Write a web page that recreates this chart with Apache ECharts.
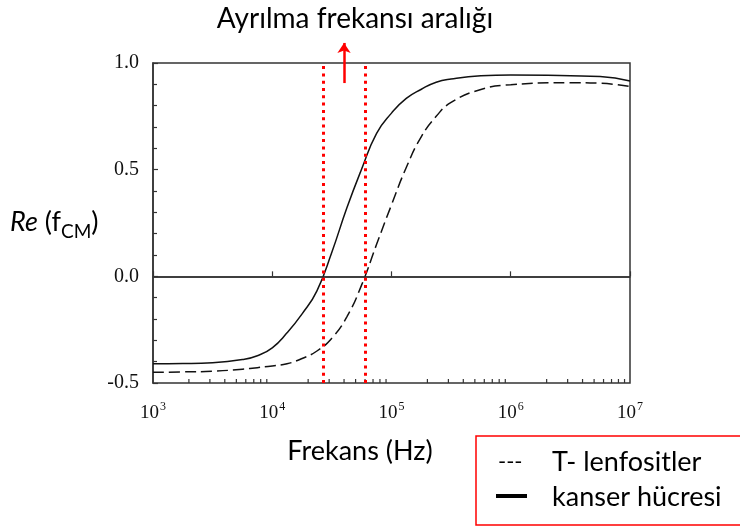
<!DOCTYPE html>
<html>
<head>
<meta charset="utf-8">
<script src="https://cdn.jsdelivr.net/npm/echarts@6/dist/echarts.min.js"></script>
<style>
html,body{margin:0;padding:0;background:#fff;}
#chart{width:740px;height:529px;}
</style>
</head>
<body>
<div id="chart"></div>
<script>
// Frequencies (Hz)
const freqs = [1000, 1780, 3160, 5620, 7500, 10000, 13300, 17800, 23700, 31600, 42200, 56200, 75000, 100000, 133000, 178000, 237000, 316000, 562000, 1000000, 3160000, 5620000, 10000000];
// Re(fCM) for cancer cells (solid)
const kanserValues = [-0.41, -0.409, -0.405, -0.39, -0.372, -0.335, -0.265, -0.176, -0.068, 0.113, 0.32, 0.503, 0.67, 0.765, 0.834, 0.877, 0.91, 0.925, 0.94, 0.944, 0.94, 0.937, 0.916];
// Re(fCM) for T-lymphocytes (dashed)
const tLenfositValues = [-0.45, -0.448, -0.445, -0.435, -0.428, -0.42, -0.41, -0.385, -0.35, -0.29, -0.19, -0.04, 0.15, 0.335, 0.51, 0.655, 0.75, 0.815, 0.876, 0.898, 0.908, 0.905, 0.89];
// Crossover frequency range markers (Hz)
const crossoverFreqs = [2.7e4, 6.0e4];
const arrowFreq = 4.0e4;
const arrowY = [0.906, 1.094];
// Axis ticks
const yTicks = [-0.5, 0.0, 0.5, 1.0];
const xMinorTicks = [2e3,3e3,4e3,5e3,6e3,7e3,8e3,9e3,2e4,3e4,4e4,5e4,6e4,7e4,8e4,9e4,2e5,3e5,4e5,5e5,6e5,7e5,8e5,9e5,2e6,3e6,4e6,5e6,6e6,7e6,8e6,9e6];

const sansFont = 'Lato';
const serifFont = 'Liberation Serif';
const axisColor = '#333';
const textSize = 27;

const chart = echarts.init(document.getElementById('chart'), null, {renderer: 'canvas'});

const option = {
  animation: false,
  grid: {left: 153, right: 110, top: 63, bottom: 146, show: true, borderColor: axisColor, borderWidth: 1.5, backgroundColor: 'transparent'},
  xAxis: {
    type: 'log', logBase: 10, min: 1e3, max: 1e7,
    axisLine: {show: true, lineStyle: {color: axisColor, width: 1.5}},
    axisTick: {show: true, inside: true, length: 5, lineStyle: {color: axisColor, width: 1.2}},
    splitLine: {show: false},
    axisLabel: {
      margin: 18,
      formatter: function (v) {
        const e = Math.round(Math.log10(v));
        return '{b|10}{s|' + e + '}';
      },
      rich: {
        b: {fontFamily: serifFont, fontSize: 19, color: '#111', verticalAlign: 'bottom', lineHeight: 22},
        s: {fontFamily: serifFont, fontSize: 12, color: '#111', verticalAlign: 'top', lineHeight: 22, padding: [0, 0, 0, 1]}
      }
    }
  },
  yAxis: {
    type: 'value', min: yTicks[0], max: yTicks[yTicks.length - 1], interval: 0.5,
    axisLine: {show: true, lineStyle: {color: axisColor, width: 1.5}},
    axisTick: {show: true, inside: true, length: 5, lineStyle: {color: axisColor, width: 1.2}},
    minorTick: {show: true, splitNumber: 5, length: 4, lineStyle: {color: axisColor, width: 1.2}},
    splitLine: {show: false},
    axisLabel: {
      margin: 14,
      fontFamily: serifFont, fontSize: 20, color: '#111',
      formatter: function (v) { return v.toFixed(1); }
    }
  },
  series: [
    {
      name: 'kanser hücresi', type: 'line', smooth: 0.5, symbol: 'none',
      data: freqs.map((f, i) => [f, kanserValues[i]]),
      lineStyle: {color: '#111', width: 1.5},
      z: 3,
      markLine: {
        silent: true, symbol: 'none', label: {show: false},
        data: [{yAxis: 0}],
        lineStyle: {color: axisColor, width: 1.5, type: 'solid'}
      }
    },
    {
      name: 'T- lenfositler', type: 'line', smooth: 0.5, symbol: 'none',
      data: freqs.map((f, i) => [f, tLenfositValues[i]]),
      lineStyle: {color: '#111', width: 1.5, type: [11, 5]},
      z: 3,
      markLine: {
        silent: true, symbol: 'none', label: {show: false},
        data: crossoverFreqs.map(f => ({xAxis: f})),
        lineStyle: {color: '#ff0000', width: 3, type: [3, 4.3]},
        z: 5
      }
    },
    {
      name: 'arrow', type: 'lines', coordinateSystem: 'cartesian2d', clip: false,
      symbol: ['none', 'arrow'], symbolSize: 10,
      lineStyle: {color: '#ff0000', width: 2.5, opacity: 1},
      data: [{coords: [[arrowFreq, arrowY[0]], [arrowFreq, arrowY[1]]]}],
      z: 6
    },
    {
      name: 'minorTicks', type: 'custom', coordinateSystem: 'cartesian2d', clip: false, silent: true,
      data: xMinorTicks.map(f => [f, yTicks[0]]),
      renderItem: function (params, api) {
        const p = api.coord([api.value(0), api.value(1)]);
        return {type: 'line', shape: {x1: p[0], y1: p[1], x2: p[0], y2: p[1] - 4}, style: {stroke: axisColor, lineWidth: 1.2}};
      },
      z: 2
    }
  ],
  graphic: [
    {type: 'text', x: 355, y: 19, style: {text: 'Ayrılma frekansı aralığı', fontFamily: sansFont, fontSize: 28, fill: '#000', align: 'center', verticalAlign: 'middle'}},
    {type: 'text', x: 360, y: 451, style: {text: 'Frekans (Hz)', fontFamily: sansFont, fontSize: textSize, fill: '#000', align: 'center', verticalAlign: 'middle'}},
    {type: 'text', x: 10, y: 220, style: {
      text: '{i|Re}{n| (f}{sub|CM}{n|)}', verticalAlign: 'middle',
      rich: {
        i: {fontFamily: sansFont, fontSize: textSize, fontStyle: 'italic', fill: '#000', verticalAlign: 'bottom', lineHeight: 32},
        n: {fontFamily: sansFont, fontSize: textSize, fill: '#000', verticalAlign: 'bottom', lineHeight: 32},
        sub: {fontFamily: sansFont, fontSize: 19, fill: '#000', verticalAlign: 'bottom', lineHeight: 32, padding: [0, 0, -5, 0]}
      }
    }},
    {type: 'rect', shape: {x: 476, y: 436, width: 300, height: 89}, style: {fill: '#fff', stroke: '#ff0000', lineWidth: 1.5}},
    {type: 'text', x: 498, y: 462, style: {text: '---', fontFamily: sansFont, fontSize: 22, fill: '#000', verticalAlign: 'middle'}},
    {type: 'text', x: 552, y: 462, style: {text: 'T- lenfositler', fontFamily: sansFont, fontSize: textSize, fill: '#000', verticalAlign: 'middle'}},
    {type: 'rect', shape: {x: 496, y: 494, width: 31, height: 4}, style: {fill: '#000'}},
    {type: 'text', x: 552, y: 497, style: {text: 'kanser hücresi', fontFamily: sansFont, fontSize: textSize, fill: '#000', verticalAlign: 'middle'}}
  ]
};
chart.setOption(option);
</script>
</body>
</html>
